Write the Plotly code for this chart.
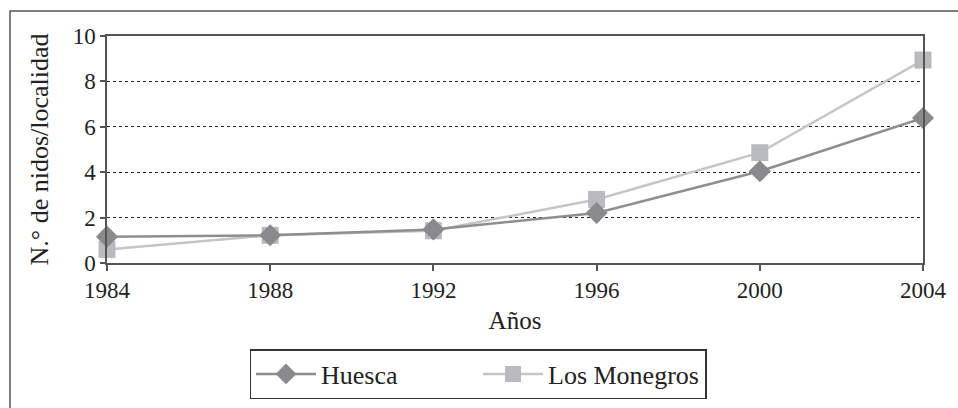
import plotly.graph_objects as go

years = [1984, 1988, 1992, 1996, 2000, 2004]
huesca = [1.16, 1.22, 1.48, 2.2, 4.04, 6.39]
monegros = [0.6, 1.22, 1.42, 2.8, 4.86, 8.94]
series_names = ["Huesca", "Los Monegros"]
y_ticks = [0, 2, 4, 6, 8, 10]

FONT = "Liberation Serif"

fig = go.Figure()
fig.add_trace(go.Scatter(
    x=years, y=monegros, name=series_names[1], mode="lines+markers",
    line=dict(color="#c4c5c7", width=2.5),
    marker=dict(symbol="square", size=17, color="#b9babd"),
    cliponaxis=False,
))
fig.add_trace(go.Scatter(
    x=years, y=huesca, name=series_names[0], mode="lines+markers",
    line=dict(color="#8e8e90", width=2.5),
    marker=dict(symbol="diamond", size=17, color="#8a8a8c"),
    cliponaxis=False,
))

W, H = 958, 408
L, R, T, B = 107, 35, 36, 145
pw, ph = W - L - R, H - T - B

def px(x):
    return (x - L) / pw

def py(y):
    return (H - B - y) / ph

fig.update_layout(
    width=W, height=H,
    margin=dict(l=L, r=R, t=T, b=B, autoexpand=False),
    paper_bgcolor="white", plot_bgcolor="white",
    font=dict(family=FONT, size=23, color="#222"),
    showlegend=True,
    legend=dict(
        orientation="h", traceorder="reversed",
        x=px(478), xanchor="center", y=py(349), yanchor="top",
        font=dict(size=26, family=FONT, color="#222"),
        bordercolor="#333", borderwidth=1.5, bgcolor="white",
        itemwidth=60, entrywidth=152,
    ),
    xaxis=dict(
        range=[1984, 2004], tickvals=years, ticktext=[str(y) for y in years],
        showgrid=False, zeroline=False, automargin=False,
        showline=True, linecolor="#555", linewidth=1.5, mirror=True,
        ticks="outside", ticklen=6, tickcolor="#555", tickwidth=1.5,
        tickfont=dict(size=23, family=FONT, color="#222"),
        title=dict(text="Años", font=dict(size=25, family=FONT, color="#222"), standoff=9),
    ),
    yaxis=dict(
        range=[0, 10], tickvals=y_ticks,
        showgrid=True, gridcolor="#222", griddash="dot", gridwidth=1,
        zeroline=False, automargin=False,
        showline=True, linecolor="#555", linewidth=1.5, mirror=True,
        ticks="outside", ticklen=5, tickcolor="#555", tickwidth=1.5,
        tickfont=dict(size=23, family=FONT, color="#222"),
        title=dict(text="N.° de nidos/localidad", font=dict(size=26, family=FONT, color="#222"), standoff=17),
    ),
    shapes=[dict(
        type="rect", xref="paper", yref="paper", layer="below",
        x0=px(10), x1=px(962), y0=py(412), y1=py(11),
        line=dict(color="#555", width=1.5), fillcolor="rgba(0,0,0,0)",
    )],
)

fig.write_html(
    "out.html",
    config={"displayModeBar": False},
    post_script="document.body.style.margin='0';document.body.style.overflow='hidden';",
)
